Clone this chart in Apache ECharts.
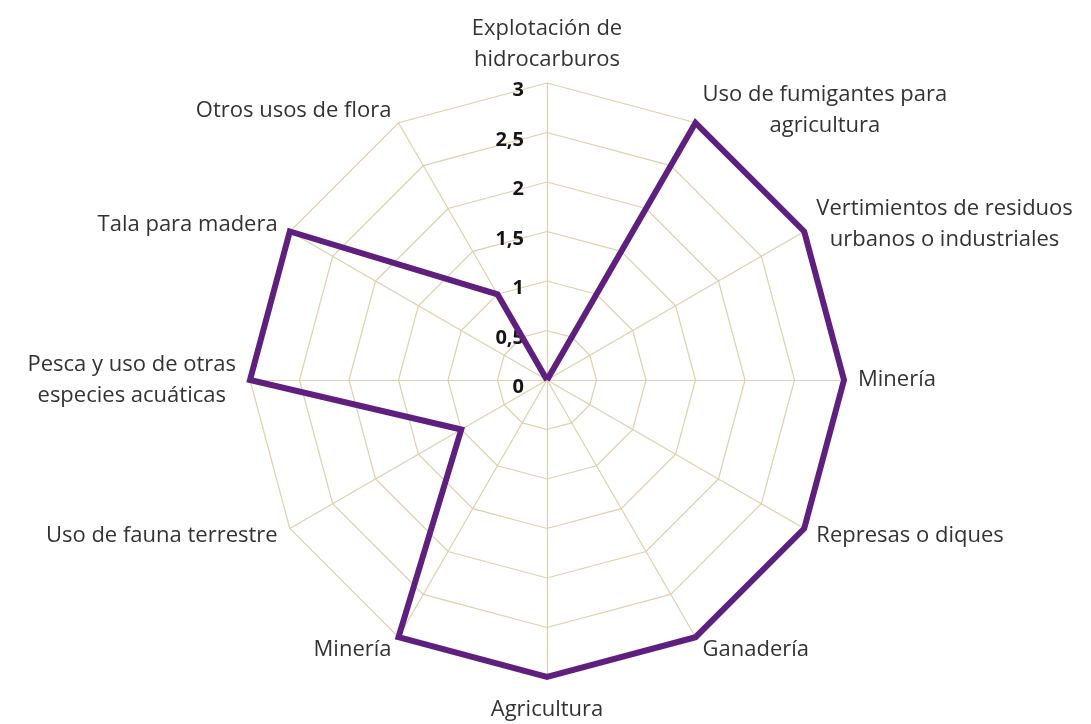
<!DOCTYPE html>
<html>
<head>
<meta charset="utf-8">
<script src="https://cdn.jsdelivr.net/npm/echarts@6/dist/echarts.min.js"></script>
<style>
  html, body { margin: 0; padding: 0; background: #fff; }
  #chart { width: 1091px; height: 724px; }
</style>
</head>
<body>
<div id="chart"></div>
<script>
// Pressure categories around the radar, clockwise from the top
const categories = [
  'Explotación de\nhidrocarburos',
  'Uso de fumigantes para\nagricultura',
  'Vertimientos de residuos\nurbanos o industriales',
  'Minería',
  'Represas o diques',
  'Ganadería',
  'Agricultura',
  'Minería',
  'Uso de fauna terrestre',
  'Pesca y uso de otras\nespecies acuáticas',
  'Tala para madera',
  'Otros usos de flora'
];
// Intensity score for each category
const values = [0, 3, 3, 3, 3, 3, 3, 3, 1, 3, 3, 1];
// Scale of the radial axis
const scaleMax = 3;
const scaleStep = 0.5;

// ECharts lays indicators out counter-clockwise; keep the first one at the
// top and reverse the rest so the categories run clockwise.
const order = [0].concat(categories.map((_, i) => i).slice(1).reverse());
const bottomSlot = order.length / 2;

const indicator = order.map((idx, k) => {
  const item = { name: categories[idx], min: 0, max: scaleMax };
  if (k === 0) {
    // the value scale is printed along the top spoke only
    item.axisLabel = { show: true };
    item.nameGap = 8;
  } else if (k === bottomSlot) {
    item.nameGap = 17;
  }
  return item;
});
const seriesValues = order.map(idx => values[idx]);

const chart = echarts.init(document.getElementById('chart'), null, { renderer: 'canvas' });

const nameFont = { color: '#333333', fontFamily: 'Open Sans', fontSize: 22, lineHeight: 31 };

chart.setOption({
  animation: false,
  backgroundColor: '#ffffff',
  radar: {
    center: [547, 380],
    radius: 297,
    startAngle: 90,
    shape: 'polygon',
    splitNumber: scaleMax / scaleStep,
    indicator: indicator,
    nameGap: 14,
    axisName: Object.assign({
      formatter: function (name) {
        return name.split('\n').map(l => '{c|' + l + '}').join('\n');
      },
      rich: { c: Object.assign({ align: 'center' }, nameFont) }
    }, nameFont),
    axisLine: { lineStyle: { color: '#e0cfae', width: 1.2 } },
    splitLine: { lineStyle: { color: '#e0cfae', width: 1.2 } },
    splitArea: { show: false },
    axisTick: { show: false },
    axisLabel: {
      show: false,
      color: '#151515',
      fontFamily: 'Open Sans',
      fontWeight: 'bold',
      fontSize: 20,
      margin: 23,
      verticalAlign: 'top',
      lineHeight: 15,
      formatter: function (v) { return String(v).replace('.', ','); }
    }
  },
  series: [{
    type: 'radar',
    symbol: 'none',
    lineStyle: { color: '#5e1f7f', width: 6, join: 'miter' },
    itemStyle: { color: '#5e1f7f' },
    data: [{ value: seriesValues }]
  }]
});
</script>
</body>
</html>
